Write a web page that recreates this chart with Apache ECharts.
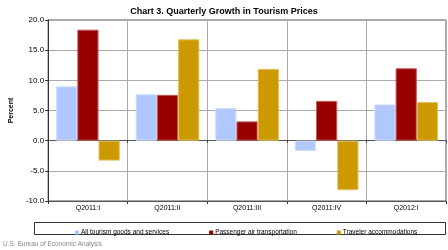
<!DOCTYPE html>
<html>
<head>
<meta charset="utf-8">
<script src="https://cdn.jsdelivr.net/npm/echarts@6/dist/echarts.min.js"></script>
<style>
  html, body { margin: 0; padding: 0; background: #fff; }
  #chart { width: 448px; height: 250px; }
</style>
</head>
<body>
<div id="chart"></div>
<script>
var quarters = ['Q2011:I', 'Q2011:II', 'Q2011:III', 'Q2011:IV', 'Q2012:I'];
var allTourism = [9.0, 7.7, 5.4, -1.7, 6.0];
var airTransport = [18.4, 7.6, 3.2, 6.6, 12.0];
var accommodations = [-3.3, 16.8, 11.9, -8.2, 6.4];
var seriesNames = ['All tourism goods and services', 'Passenger air transportation', 'Traveler accommodations'];

var font = 'Liberation Sans, Arial, sans-serif';

var myChart = echarts.init(document.getElementById('chart'));

var barStyle = function (color, border) {
    return { color: color, borderColor: border, borderWidth: 1 };
};

option = {
    animation: false,
    color: ['#b0c8ff', '#990000', '#cc9900'],
    title: {
        text: 'Chart 3. Quarterly Growth in Tourism Prices',
        left: 'center',
        top: 2,
        textStyle: { fontFamily: font, fontSize: 9, fontWeight: 'bold', color: '#000' }
    },
    grid: {
        left: 34, right: 2, top: 20, bottom: 49,
        show: true, borderColor: '#555', borderWidth: 1
    },
    legend: {
        left: 70,
        top: 224,
        itemWidth: 4,
        itemHeight: 4,
        itemGap: 40,
        icon: 'rect',
        itemStyle: { borderWidth: 0 },
        textStyle: { fontFamily: font, fontSize: 6.5, color: '#000', padding: [0, 0, 0, -3] },
        data: seriesNames
    },
    graphic: [
        {
            type: 'rect',
            shape: { x: 34.5, y: 222.5, width: 411, height: 12 },
            style: { fill: 'none', stroke: '#333', lineWidth: 1 }
        },
        {
            type: 'text',
            left: 3,
            top: 241,
            style: { text: 'U.S. Bureau of Economic Analysis', fill: '#888', font: '6.5px ' + font }
        }
    ],
    xAxis: [
        {
            type: 'category',
            data: quarters,
            axisLine: { onZero: false, lineStyle: { color: '#555' } },
            axisTick: { show: true, length: 3, lineStyle: { color: '#333' } },
            axisLabel: { fontFamily: font, fontSize: 7, color: '#000', margin: 4 },
            splitLine: { show: true, lineStyle: { color: '#aaa', width: 1 } }
        },
        {
            type: 'category',
            data: quarters,
            position: 'bottom',
            axisLine: { onZero: true, lineStyle: { color: '#555', width: 1 } },
            axisTick: { show: true, length: 2, inside: false, lineStyle: { color: '#333' } },
            axisLabel: { show: false },
            splitLine: { show: false }
        }
    ],
    yAxis: {
        type: 'value',
        min: -10,
        max: 20,
        interval: 5,
        name: 'Percent',
        nameLocation: 'middle',
        nameGap: 26,
        nameRotate: 90,
        nameTextStyle: { fontFamily: font, fontSize: 7, fontWeight: 'bold', color: '#000' },
        axisLine: { show: true, lineStyle: { color: '#333' } },
        axisTick: { show: true, length: 3, lineStyle: { color: '#333' } },
        axisLabel: {
            fontFamily: font, fontSize: 8, color: '#000', margin: 4,
            formatter: function (v) { return v.toFixed(1); }
        },
        splitLine: { show: true, lineStyle: { color: '#aaa', width: 1 } }
    },
    series: [
        {
            name: seriesNames[0],
            type: 'bar',
            barGap: 0,
            barCategoryGap: '20%',
            itemStyle: barStyle('#b0c8ff', '#d0ddff'),
            data: allTourism
        },
        {
            name: seriesNames[1],
            type: 'bar',
            itemStyle: barStyle('#990000', '#c06060'),
            data: airTransport
        },
        {
            name: seriesNames[2],
            type: 'bar',
            itemStyle: barStyle('#cc9900', '#e0c060'),
            data: accommodations
        }
    ]
};

myChart.setOption(option);
</script>
</body>
</html>
